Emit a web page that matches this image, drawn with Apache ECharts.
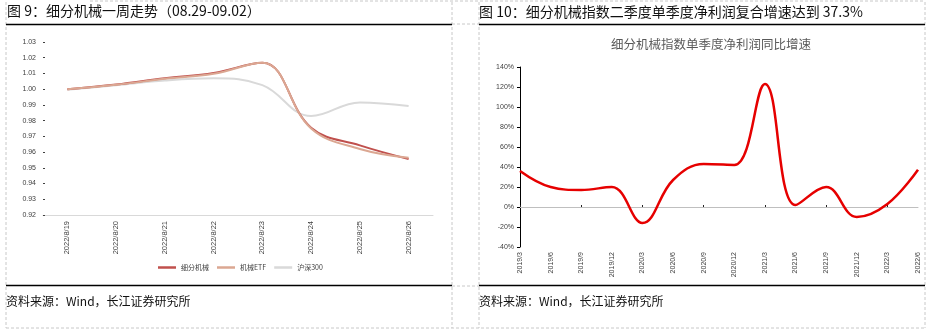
<!DOCTYPE html>
<html>
<head>
<meta charset="utf-8">
<script src="https://cdn.jsdelivr.net/npm/echarts@6/dist/echarts.min.js"></script>
<style>
html,body{margin:0;padding:0;background:#fff;}
#c{width:931px;height:331px;}
</style>
</head>
<body>
<div id="c"></div>
<script>
// ---- Left chart data ----
const weekLabels = ['2022/8/19','2022/8/20','2022/8/21','2022/8/22','2022/8/23','2022/8/24','2022/8/25','2022/8/26'];
const machinery = [1.000, 1.003, 1.007, 1.0103, 1.0168, 0.9755, 0.9643, 0.9556];
const machineryETF = [1.000, 1.0028, 1.0066, 1.0098, 1.0168, 0.9750, 0.9620, 0.9564];
const csi300 = [0.9997, 1.0025, 1.0055, 1.0069, 1.0026, 0.9829, 0.9916, 0.9893];
const leftNames = ['细分机械','机械ETF','沪深300'];

// ---- Right chart data ----
const quarters = ['2019/3','2019/6','2019/9','2019/12','2020/3','2020/6','2020/9','2020/12','2021/3','2021/6','2021/9','2021/12','2022/3','2022/6'];
const profitGrowth = [36, 20, 17, 20, -16, 27, 43, 42, 123, 2, 20, -10, 3, 37.3];

const chart = echarts.init(document.getElementById('c'), null, {renderer:'canvas'});
const font = '"Noto Sans CJK SC","Liberation Sans",sans-serif';
const dash = {stroke:'#c8c8c8', lineWidth:1, lineDash:[3,2]};

chart.setOption({
  animation:false,
  backgroundColor:'#fff',
  textStyle:{fontFamily:font},
  graphic:[
    {type:'line', shape:{x1:6,y1:2,x2:6,y2:328}, style:dash, silent:true},
    {type:'line', shape:{x1:452,y1:2,x2:452,y2:328}, style:dash, silent:true},
    {type:'line', shape:{x1:479,y1:2,x2:479,y2:328}, style:dash, silent:true},
    {type:'line', shape:{x1:925,y1:2,x2:925,y2:328}, style:dash, silent:true},
    {type:'line', shape:{x1:6,y1:328,x2:925,y2:328}, style:dash, silent:true},
    {type:'line', shape:{x1:90,y1:1,x2:925,y2:1}, style:dash, silent:true},
    {type:'line', shape:{x1:452,y1:24,x2:479,y2:24}, style:dash, silent:true},
    {type:'line', shape:{x1:452,y1:286,x2:479,y2:286}, style:dash, silent:true},
    {type:'line', shape:{x1:6,y1:24.5,x2:452,y2:24.5}, style:{stroke:'#000',lineWidth:1.5}, silent:true},
    {type:'line', shape:{x1:479,y1:24.5,x2:925,y2:24.5}, style:{stroke:'#000',lineWidth:1.5}, silent:true},
    {type:'line', shape:{x1:6,y1:285.5,x2:452,y2:285.5}, style:{stroke:'#000',lineWidth:1.5}, silent:true},
    {type:'line', shape:{x1:479,y1:285.5,x2:925,y2:285.5}, style:{stroke:'#000',lineWidth:1.5}, silent:true},
    {type:'text', left:7, top:4, style:{text:'图 9：细分机械一周走势（08.29-09.02）', font:'14px '+font, fill:'#111'}},
    {type:'text', left:479, top:5, style:{text:'图 10：细分机械指数二季度单季度净利润复合增速达到 37.3%', font:'14px '+font, fill:'#111'}},
    {type:'text', left:611, top:38, style:{text:'细分机械指数单季度净利润同比增速', font:'12.5px '+font, fill:'#595959'}},
    {type:'text', left:6, top:295, style:{text:'资料来源：Wind，长江证券研究所', font:'12px '+font, fill:'#111'}},
    {type:'text', left:479, top:295, style:{text:'资料来源：Wind，长江证券研究所', font:'12px '+font, fill:'#111'}}
  ],
  legend:{
    data:leftNames,
    left:153, top:259,
    itemWidth:18, itemHeight:2.5, itemGap:8,
    icon:'rect',
    textStyle:{fontSize:7, color:'#404040', fontFamily:font}
  },
  grid:[
    {left:43, right:498, top:42, bottom:116},
    {left:520, right:13, top:67, bottom:84}
  ],
  xAxis:[
    {gridIndex:0, type:'category', data:weekLabels, boundaryGap:true,
     axisLine:{lineStyle:{color:'#d9d9d9'}},
     axisTick:{inside:true, length:2, lineStyle:{color:'#404040'}},
     axisLabel:{rotate:90, fontSize:7.5, color:'#404040', margin:6, interval:0, fontFamily:'"Liberation Sans",sans-serif'}},
    {gridIndex:1, type:'category', data:quarters, boundaryGap:false,
     axisLine:{show:false, onZero:false},
     axisTick:{show:false},
     axisLabel:{rotate:90, fontSize:7, color:'#404040', margin:5, interval:0, fontFamily:'"Liberation Sans",sans-serif'}},
    {gridIndex:1, type:'category', data:quarters, boundaryGap:false, position:'bottom',
     axisLine:{show:true, onZero:true, lineStyle:{color:'#bfbfbf'}},
     axisTick:{show:true, inside:true, length:2, lineStyle:{color:'#222'}},
     axisLabel:{show:false}}
  ],
  yAxis:[
    {gridIndex:0, type:'value', min:0.92, max:1.03, interval:0.01,
     axisLine:{show:false},
     axisTick:{show:true, inside:true, length:2, lineStyle:{color:'#404040'}},
     splitLine:{show:false},
     axisLabel:{fontSize:7, color:'#404040', margin:7, formatter:v=>v.toFixed(2), fontFamily:'"Liberation Sans",sans-serif'}},
    {gridIndex:1, type:'value', min:-40, max:140, interval:20,
     axisLine:{show:true, lineStyle:{color:'#000'}},
     axisTick:{show:true, length:3, lineStyle:{color:'#000'}},
     splitLine:{show:false},
     axisLabel:{fontSize:7, color:'#404040', margin:6, formatter:'{value}%', fontFamily:'"Liberation Sans",sans-serif'}}
  ],
  series:[
    {name:leftNames[2], type:'line', xAxisIndex:0, yAxisIndex:0, data:csi300, smooth:0.4, showSymbol:false,
     lineStyle:{color:'#d9d9d9', width:2}, itemStyle:{color:'#d9d9d9'}},
    {name:leftNames[0], type:'line', xAxisIndex:0, yAxisIndex:0, data:machinery, smooth:0.4, showSymbol:false,
     lineStyle:{color:'#c0504d', width:2}, itemStyle:{color:'#c0504d'}},
    {name:leftNames[1], type:'line', xAxisIndex:0, yAxisIndex:0, data:machineryETF, smooth:0.4, showSymbol:false,
     lineStyle:{color:'#dba792', width:2}, itemStyle:{color:'#dba792'}},
    {name:'净利润同比增速', type:'line', xAxisIndex:1, yAxisIndex:1, data:profitGrowth, smooth:0.4, showSymbol:false,
     lineStyle:{color:'#e60000', width:2.5}, itemStyle:{color:'#e60000'}}
  ]
});
</script>
</body>
</html>
